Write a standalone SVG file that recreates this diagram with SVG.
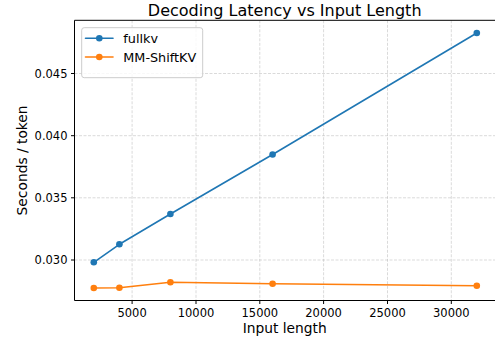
<svg xmlns="http://www.w3.org/2000/svg" width="495" height="343" viewBox="0 0 495 343">
<style>
text{font-family:"DejaVu Sans","Liberation Sans",sans-serif;fill:#000}
.tick{font-size:11.5px}
.lbl{font-size:13.8px}
.ttl{font-size:16px}
.leg{font-size:12.8px}
.grid{stroke:#b0b0b0;stroke-opacity:0.6;stroke-width:0.8;stroke-dasharray:3,1.5;fill:none}
.spine{stroke:#000;stroke-width:1;fill:none}
.tk{stroke:#000;stroke-width:1}
.blue{stroke:#1f77b4;stroke-width:1.6;fill:none;stroke-linejoin:round;stroke-linecap:round}
.orange{stroke:#ff7f0e;stroke-width:1.6;fill:none;stroke-linejoin:round;stroke-linecap:round}
.bm{fill:#1f77b4}
.om{fill:#ff7f0e}
</style>
<rect x="0" y="0" width="495" height="343" fill="#fff"/>
<g id="grid">
<path class="grid" d="M132.1 20.3V300.5M196 20.3V300.5M259.8 20.3V300.5M323.6 20.3V300.5M387.5 20.3V300.5M451.3 20.3V300.5"/>
<path class="grid" d="M74.5 73.5H495M74.5 135.7H495M74.5 197.8H495M74.5 260H495"/>
</g>
<g id="axes">
<path class="spine" d="M74.5 20.3V300.5H496M74.5 20.3H496"/>
<path class="tk" d="M132.1 300.5V304M196 300.5V304M259.8 300.5V304M323.6 300.5V304M387.5 300.5V304M451.3 300.5V304"/>
<path class="tk" d="M71 73.5H74.5M71 135.7H74.5M71 197.8H74.5M71 260H74.5"/>
<g class="tick" text-anchor="middle">
<text x="132.1" y="316.9">5000</text>
<text x="196" y="316.9">10000</text>
<text x="259.8" y="316.9">15000</text>
<text x="323.6" y="316.9">20000</text>
<text x="387.5" y="316.9">25000</text>
<text x="451.3" y="316.9">30000</text>
</g>
<g class="tick" text-anchor="end">
<text x="67.5" y="77.7">0.045</text>
<text x="67.5" y="139.9">0.040</text>
<text x="67.5" y="202">0.035</text>
<text x="67.5" y="264.2">0.030</text>
</g>
<text class="lbl" x="284.7" y="333.3" text-anchor="middle">Input length</text>
<text class="lbl" transform="translate(26.5 160.4) rotate(-90)" text-anchor="middle">Seconds / token</text>
<text class="ttl" x="284.7" y="16" text-anchor="middle">Decoding Latency vs Input Length</text>
</g>
<g id="connectors">
<polyline class="blue" points="93.8,262.3 119.4,244.3 170.4,214 272.6,154.5 476.8,33"/>
<polyline class="orange" points="93.8,288 119.4,287.7 170.4,282.3 272.6,283.7 476.8,285.7"/>
</g>
<g id="fullkv">
<circle class="bm" cx="93.8" cy="262.3" r="3.3"/>
<circle class="bm" cx="119.4" cy="244.3" r="3.3"/>
<circle class="bm" cx="170.4" cy="214" r="3.3"/>
<circle class="bm" cx="272.6" cy="154.5" r="3.3"/>
<circle class="bm" cx="476.8" cy="33" r="3.3"/>
</g>
<g id="mmshiftkv">
<circle class="om" cx="93.8" cy="288" r="3.3"/>
<circle class="om" cx="119.4" cy="287.7" r="3.3"/>
<circle class="om" cx="170.4" cy="282.3" r="3.3"/>
<circle class="om" cx="272.6" cy="283.7" r="3.3"/>
<circle class="om" cx="476.8" cy="285.7" r="3.3"/>
</g>
<g id="legend">
<rect x="81.7" y="27.7" width="121" height="50" rx="2.5" fill="#fff" fill-opacity="0.8" stroke="#cccccc" stroke-width="1"/>
<path class="blue" d="M85.5 38.3H113"/>
<circle class="bm" cx="99.3" cy="38.3" r="3.3"/>
<text class="leg" x="123.3" y="43">fullkv</text>
<path class="orange" d="M85.5 57H113"/>
<circle class="om" cx="99.3" cy="57" r="3.3"/>
<text class="leg" x="123.3" y="61.7">MM-ShiftKV</text>
</g>
</svg>
